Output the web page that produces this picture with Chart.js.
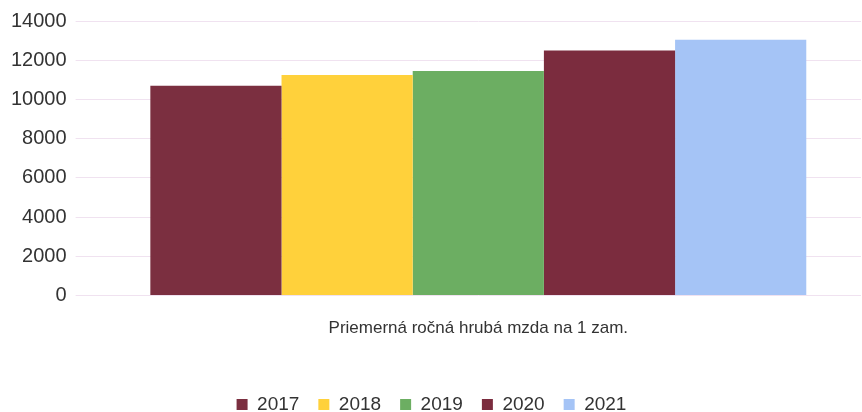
<!DOCTYPE html>
<html>
<head>
<meta charset="utf-8">
<script src="https://cdn.jsdelivr.net/npm/chart.js@4/dist/chart.umd.min.js"></script>
<style>
  html, body { margin: 0; padding: 0; background: #fff; }
  #wrap { width: 862px; height: 412px; }
</style>
</head>
<body>
<div id="wrap"><canvas id="chart"></canvas></div>
<script>
const categories = ['Priemerná ročná hrubá mzda na 1 zam.'];
const years = ['2017', '2018', '2019', '2020', '2021'];
const wages = [10700, 11250, 11450, 12500, 13050];
const yTicks = [0, 2000, 4000, 6000, 8000, 10000, 12000, 14000];
const colors = ['#7b2f40', '#ffd13b', '#6cae62', '#7b2c3e', '#a5c4f6'];

const font = "'Liberation Sans', Arial, sans-serif";

const datasets = years.map((y, i) => ({
  label: y,
  data: [wages[i]],
  backgroundColor: colors[i],
  borderWidth: 0
}));

new Chart(document.getElementById('chart'), {
  type: 'bar',
  data: { labels: categories, datasets },
  options: {
    responsive: true,
    maintainAspectRatio: false,
    animation: false,
    layout: { padding: { left: 2, right: 1, top: 14, bottom: -12 } },
    datasets: { bar: { categoryPercentage: 0.857, barPercentage: 1 } },
    plugins: {
      tooltip: { enabled: false },
      legend: {
        position: 'bottom',
        labels: {
          boxWidth: 11,
          boxHeight: 11,
          padding: 19,
          color: '#333',
          font: { family: font, size: 19 }
        }
      }
    },
    scales: {
      x: {
        grid: { display: false },
        border: { display: false },
        afterFit: axis => { axis.height += 22; },
        ticks: { color: '#333', padding: 15, font: { family: font, size: 17 } }
      },
      y: {
        min: 0,
        max: 14000,
        afterBuildTicks: axis => { axis.ticks = yTicks.map(v => ({ value: v })); },
        grid: { color: '#f0e2f0', tickLength: 20, lineWidth: 1 },
        border: { display: false },
        ticks: {
          color: '#333',
          padding: 9,
          font: { family: font, size: 20 },
          callback: v => String(v)
        }
      }
    }
  }
});
</script>
</body>
</html>
